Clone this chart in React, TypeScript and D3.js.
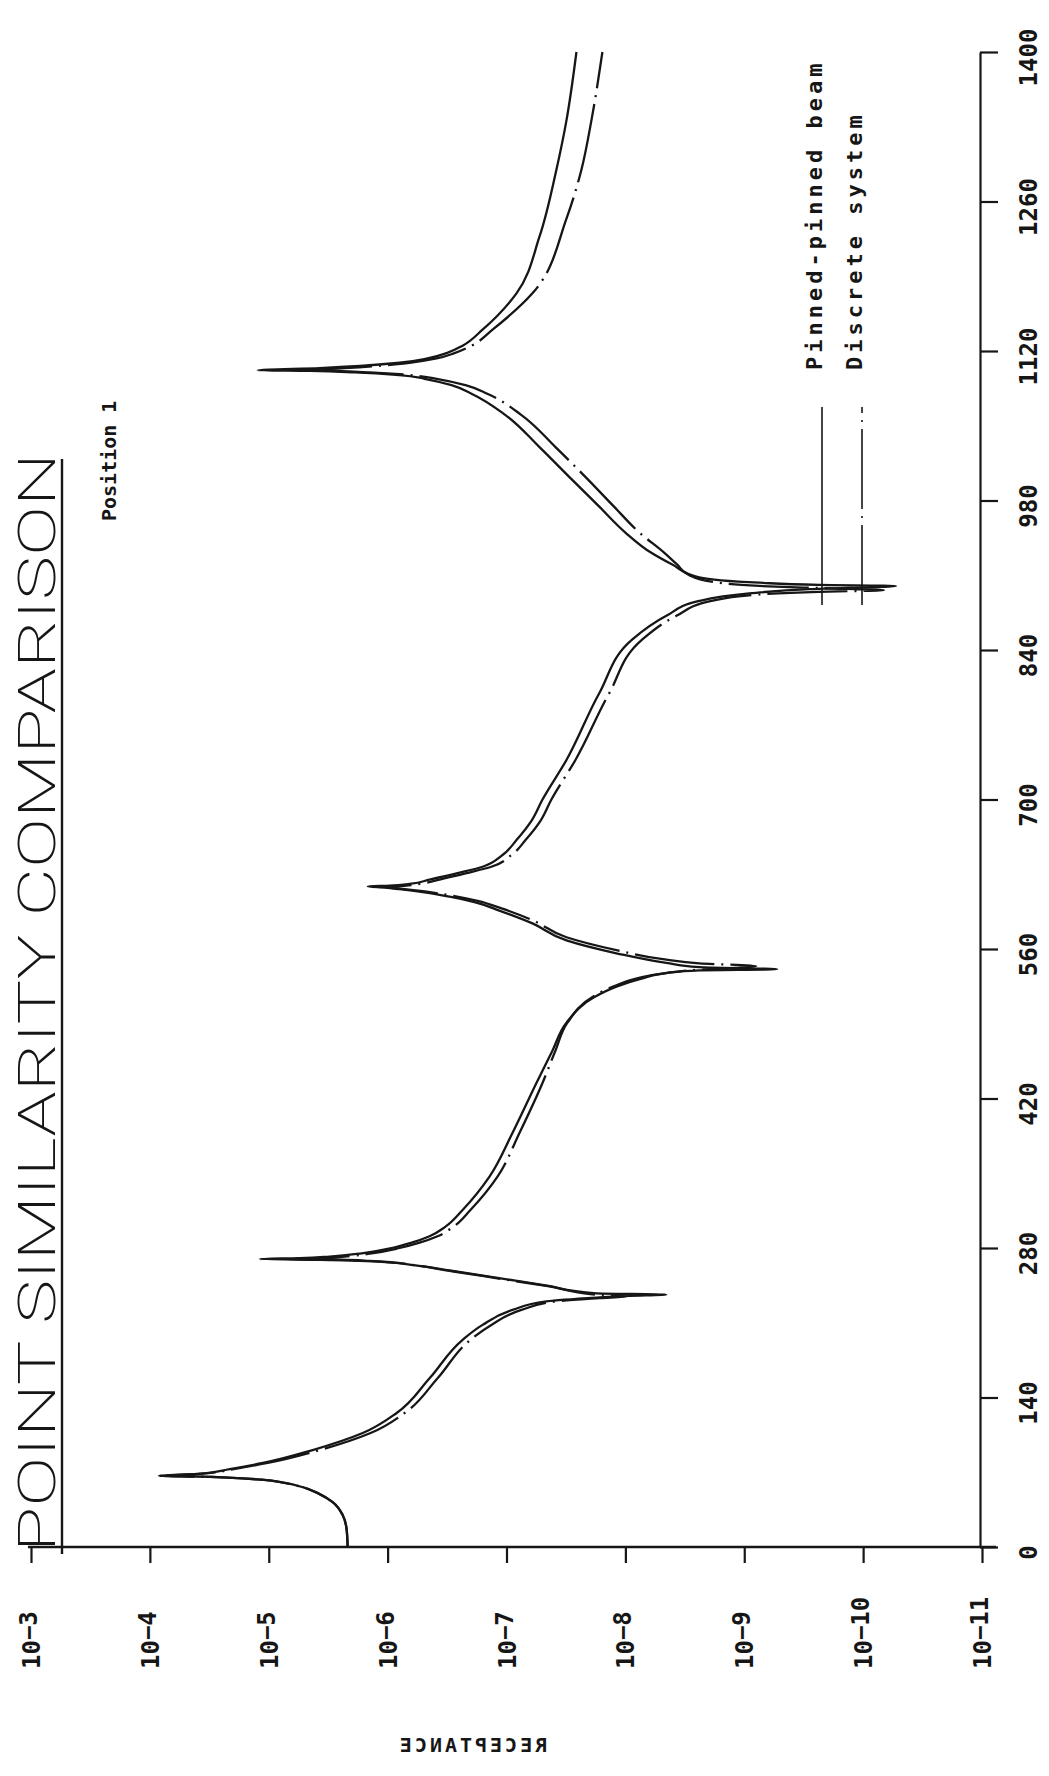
import React, { useEffect, useRef } from "react";
import * as d3 from "d3";

// frequency axis (drawn vertically, on the right)
const freqTicks = [0, 140, 280, 420, 560, 700, 840, 980, 1120, 1260, 1400];
// receptance axis (drawn horizontally, along the bottom)
const recTicks = [1e-3, 1e-4, 1e-5, 1e-6, 1e-7, 1e-8, 1e-9, 1e-10, 1e-11];
const recTickExp = ["-3", "-4", "-5", "-6", "-7", "-8", "-9", "-10", "-11"];

// Pinned-pinned beam (solid)
const beamFreq = [
  0, 16, 30, 42, 50, 56, 60, 63, 65, 66, 66.6,
  68.4, 73, 78.7, 90.8, 106.7, 125.5, 158, 194, 208, 222, 230, 233.5, 235.2, 236.3,
  237.5, 245, 252, 259, 264, 266.5, 268, 269, 269.6,
  270.5, 272, 275, 280, 285, 291, 300, 315.6, 346.8, 387.7, 434.5, 465, 491, 515, 524.7, 533, 537.5, 540, 541,
  543, 547, 556, 568, 584, 596, 604, 609, 613, 616, 617.5, 618.5,
  619.3, 621, 625, 631, 637, 648, 662, 680, 700, 737, 800, 850, 872, 886, 893, 897, 900,
  901, 903, 908, 920, 931, 950, 974, 1000, 1030, 1060, 1080, 1088, 1094, 1097.5, 1100, 1101.3, 1102,
  1104, 1109, 1113, 1118, 1125, 1140, 1174, 1227, 1290, 1336, 1400,
];
const beamRec = [
  2.17e-6, 2.21e-6, 2.39e-6, 2.9e-6, 3.8e-6, 5.18e-6, 7.35e-6, 1.15e-5, 2.21e-5, 4.19e-5, 8.39e-5,
  4.03e-5, 2.13e-5, 1.12e-5, 4.27e-6, 1.62e-6, 8.39e-7, 4.44e-7, 2.34e-7, 1.59e-7, 8.91e-8, 4.61e-8, 1.75e-8, 9.25e-9, 4.52e-9,
  1.75e-8, 4.7e-8, 1.19e-7, 3.01e-7, 6.05e-7, 9.62e-7, 1.72e-6, 3.72e-6, 1.19e-5,
  5.48e-6, 3.07e-6, 1.65e-6, 9.25e-7, 6.28e-7, 4.44e-7, 3.26e-7, 2.34e-7, 1.39e-7, 8.91e-8, 5.6e-8, 4.1e-8, 3.13e-8, 1.82e-8, 1.19e-8, 6.92e-9, 4.52e-9, 2.39e-9, 5.28e-10,
  2.39e-9, 4.52e-9, 1.19e-8, 3.13e-8, 6.05e-8, 1.15e-7, 1.86e-7, 3.01e-7, 4.89e-7, 7.93e-7, 1.06e-6, 1.47e-6,
  9.62e-7, 6.53e-7, 4.44e-7, 2.58e-7, 1.59e-7, 1.08e-7, 8.24e-8, 6.17e-8, 4.98e-8, 3.13e-8, 1.65e-8, 8.73e-9, 4.52e-9, 2.39e-9, 9.08e-10, 2.84e-10, 5.28e-11,
  2.34e-10, 7.48e-10, 2.39e-9, 4.03e-9, 6.05e-9, 1.0e-8, 1.65e-8, 2.84e-8, 5.28e-8, 1.02e-7, 1.97e-7, 2.9e-7, 4.89e-7, 7.93e-7, 1.89e-6, 4.52e-6, 1.24e-5,
  3.72e-6, 7.93e-7, 4.61e-7, 3.19e-7, 2.34e-7, 1.59e-7, 8.24e-8, 5.28e-8, 3.8e-8, 3.13e-8, 2.58e-8,
];

// Discrete system (dash-dot)
const discreteFreq = [
  0, 16, 30, 42, 50, 56, 60, 63, 65, 66, 66.6,
  68.4, 73, 78.7, 90.8, 106.7, 125.5, 158, 194, 208, 222, 230, 233, 234.5,
  236, 244, 251, 258, 263.5, 266.3, 268, 269, 269.6,
  270.5, 272, 275, 280, 285, 291, 300, 315.6, 346.8, 387.7, 434.5, 465, 491, 515, 526, 535, 540, 544,
  546.5, 550, 559, 571, 587, 598, 605, 609.5, 613, 616, 618,
  619.2, 621, 625, 631, 637, 648, 662, 680, 700, 737, 800, 850, 872, 886, 892, 894.5, 896,
  898, 900, 904, 910, 920, 931, 950, 974, 1000, 1030, 1060, 1080, 1088, 1094, 1097.5, 1100, 1101.3, 1102,
  1104, 1109, 1113, 1118, 1125, 1140, 1174, 1244, 1290, 1336, 1400,
];
const discreteRec = [
  2.17e-6, 2.21e-6, 2.39e-6, 2.9e-6, 3.8e-6, 5.18e-6, 7.35e-6, 1.15e-5, 2.21e-5, 4.19e-5, 7.48e-5,
  3.8e-5, 1.97e-5, 1.02e-5, 3.72e-6, 1.39e-6, 7.19e-7, 3.8e-7, 2.01e-7, 1.34e-7, 7.48e-8, 3.87e-8, 1.65e-8, 9.82e-9,
  1.65e-8, 4.36e-8, 1.1e-7, 2.79e-7, 5.6e-7, 8.73e-7, 1.42e-6, 2.53e-6, 6.67e-6,
  3.87e-6, 2.3e-6, 1.36e-6, 7.93e-7, 5.38e-7, 3.8e-7, 2.79e-7, 2.01e-7, 1.19e-7, 7.78e-8, 4.98e-8, 3.87e-8, 3.07e-8, 1.89e-8, 1.19e-8, 6.28e-9, 2.9e-9, 7.93e-10,
  2.39e-9, 4.52e-9, 1.19e-8, 3.13e-8, 6.05e-8, 1.1e-7, 1.75e-7, 2.74e-7, 4.27e-7, 7.19e-7, 1.06e-6,
  7.19e-7, 5.38e-7, 3.66e-7, 2.17e-7, 1.34e-7, 9.08e-8, 6.92e-8, 5.18e-8, 4.19e-8, 2.63e-8, 1.36e-8, 7.19e-9, 3.72e-9, 1.89e-9, 7.48e-10, 2.34e-10, 6.67e-11,
  2.34e-10, 7.48e-10, 1.89e-9, 2.9e-9, 3.66e-9, 4.7e-9, 7.62e-9, 1.24e-8, 2.08e-8, 3.87e-8, 7.48e-8, 1.45e-7, 2.21e-7, 3.87e-7, 6.53e-7, 1.42e-6, 2.79e-6, 5.48e-6,
  2.3e-6, 6.53e-7, 3.87e-7, 2.74e-7, 1.97e-7, 1.31e-7, 6.05e-8, 3.13e-8, 2.34e-8, 1.93e-8, 1.56e-8,
];

const W = 1049;
const H = 1776;
const MONO = "'DejaVu Sans Mono', 'Liberation Mono', monospace";
const INK = "#161616";
const DASHDOT = "80,7,2,7";

export default function App() {
  const ref = useRef<SVGSVGElement>(null);

  useEffect(() => {
    const svg = d3.select(ref.current);
    svg.selectAll("*").remove();

    const x = d3.scaleLog().domain([1e-3, 1e-11]).range([31, 982]);
    const y = d3.scaleLinear().domain([0, 1400]).range([1547, 52]);
    const axisX = 980;
    const axisY = 1547;

    svg.append("rect").attr("width", W).attr("height", H).attr("fill", "#fff");

    // frequency axis on the right
    const right = svg.append("g")
      .attr("transform", `translate(${axisX},0)`)
      .call(d3.axisRight(y).tickValues(freqTicks).tickSize(18).tickSizeOuter(0).tickFormat(d3.format("d")));
    right.select(".domain").attr("stroke", INK).attr("stroke-width", 2.2);
    right.selectAll(".tick line").attr("stroke", INK).attr("stroke-width", 2.2);
    right.selectAll(".tick text")
      .attr("x", 0)
      .attr("dy", null)
      .attr("transform", "translate(57,5) rotate(-90)")
      .attr("text-anchor", "middle")
      .attr("fill", INK)
      .style("font-family", MONO)
      .style("font-size", "24px")
      .style("font-weight", "bold");

    // receptance axis along the bottom
    const bottom = svg.append("g")
      .attr("transform", `translate(0,${axisY})`)
      .call(d3.axisBottom(x).tickValues(recTicks).tickSize(16).tickSizeOuter(0).tickFormat(() => ""));
    bottom.select(".domain").remove();
    bottom.selectAll(".tick line").attr("stroke", INK).attr("stroke-width", 2.2);
    bottom.append("line")
      .attr("x1", 28).attr("x2", 996).attr("y1", 0).attr("y2", 0)
      .attr("stroke", INK).attr("stroke-width", 2.4);

    const labels = bottom.selectAll(".rec-label")
      .data(recTicks)
      .enter().append("text")
      .attr("class", "rec-label")
      .attr("transform", (d) => `translate(${x(d) + 9},122) rotate(-90)`)
      .attr("text-anchor", "start")
      .attr("fill", INK)
      .style("font-family", MONO)
      .style("font-size", "24px")
      .style("font-weight", "bold");
    labels.append("tspan").text("10");
    labels.append("tspan").attr("dy", -3).text((d, i) => recTickExp[i].replace("-", "\u2212"));

    // axis title, printed mirrored in the original
    svg.append("text")
      .attr("transform", "translate(472,1752) scale(-1,1)")
      .attr("text-anchor", "middle")
      .attr("fill", INK)
      .style("font-family", MONO)
      .style("font-size", "20px")
      .style("font-weight", "bold")
      .style("letter-spacing", "3px")
      .text("RECEPTANCE");

    // title and subtitle
    svg.append("text")
      .attr("transform", "translate(55,1552) rotate(-90)")
      .attr("textLength", 1099)
      .attr("lengthAdjust", "spacingAndGlyphs")
      .attr("fill", INK)
      .style("font-family", "Roboto, Lato, 'DejaVu Sans', sans-serif")
      .style("font-size", "52px")
      .style("font-weight", 200)
      .text("POINT SIMILARITY COMPARISON");
    svg.append("line")
      .attr("x1", 62).attr("x2", 62).attr("y1", 1554).attr("y2", 459)
      .attr("stroke", INK).attr("stroke-width", 2.4);

    svg.append("text")
      .attr("transform", "translate(116,521) rotate(-90)")
      .attr("fill", INK)
      .style("font-family", MONO)
      .style("font-size", "20px")
      .style("font-weight", "bold")
      .text("Position 1");

    // curves
    const line = d3.line<[number, number]>()
      .x((d) => x(d[1]))
      .y((d) => y(d[0]))
      .curve(d3.curveMonotoneY);

    const beam = beamFreq.map((f, i) => [f, beamRec[i]] as [number, number]);
    const discrete = discreteFreq.map((f, i) => [f, discreteRec[i]] as [number, number]);

    svg.append("path")
      .datum(beam)
      .attr("d", line)
      .attr("fill", "none")
      .attr("stroke", INK)
      .attr("stroke-width", 2.3)
      .attr("stroke-linejoin", "round");

    svg.append("path")
      .datum(discrete)
      .attr("d", line)
      .attr("fill", "none")
      .attr("stroke", INK)
      .attr("stroke-width", 2.3)
      .attr("stroke-dasharray", DASHDOT)
      .attr("stroke-linejoin", "round");

    // legend
    const legend = [
      { label: "Pinned-pinned beam", x: 822, dash: null as string | null },
      { label: "Discrete system", x: 862, dash: DASHDOT },
    ];
    legend.forEach((item) => {
      svg.append("text")
        .attr("transform", `translate(${item.x},370) rotate(-90)`)
        .attr("fill", INK)
        .style("font-family", MONO)
        .style("font-size", "22px")
        .style("font-weight", "bold")
        .style("letter-spacing", "4px")
        .text(item.label);
      svg.append("line")
        .attr("x1", item.x).attr("x2", item.x)
        .attr("y1", 605).attr("y2", 407)
        .attr("stroke", INK)
        .attr("stroke-width", 1.6)
        .attr("stroke-dasharray", item.dash);
    });
  }, []);

  return (
    <div style={{ position: "absolute", left: 0, top: 0 }}>
      <svg ref={ref} width={W} height={H} />
    </div>
  );
}
